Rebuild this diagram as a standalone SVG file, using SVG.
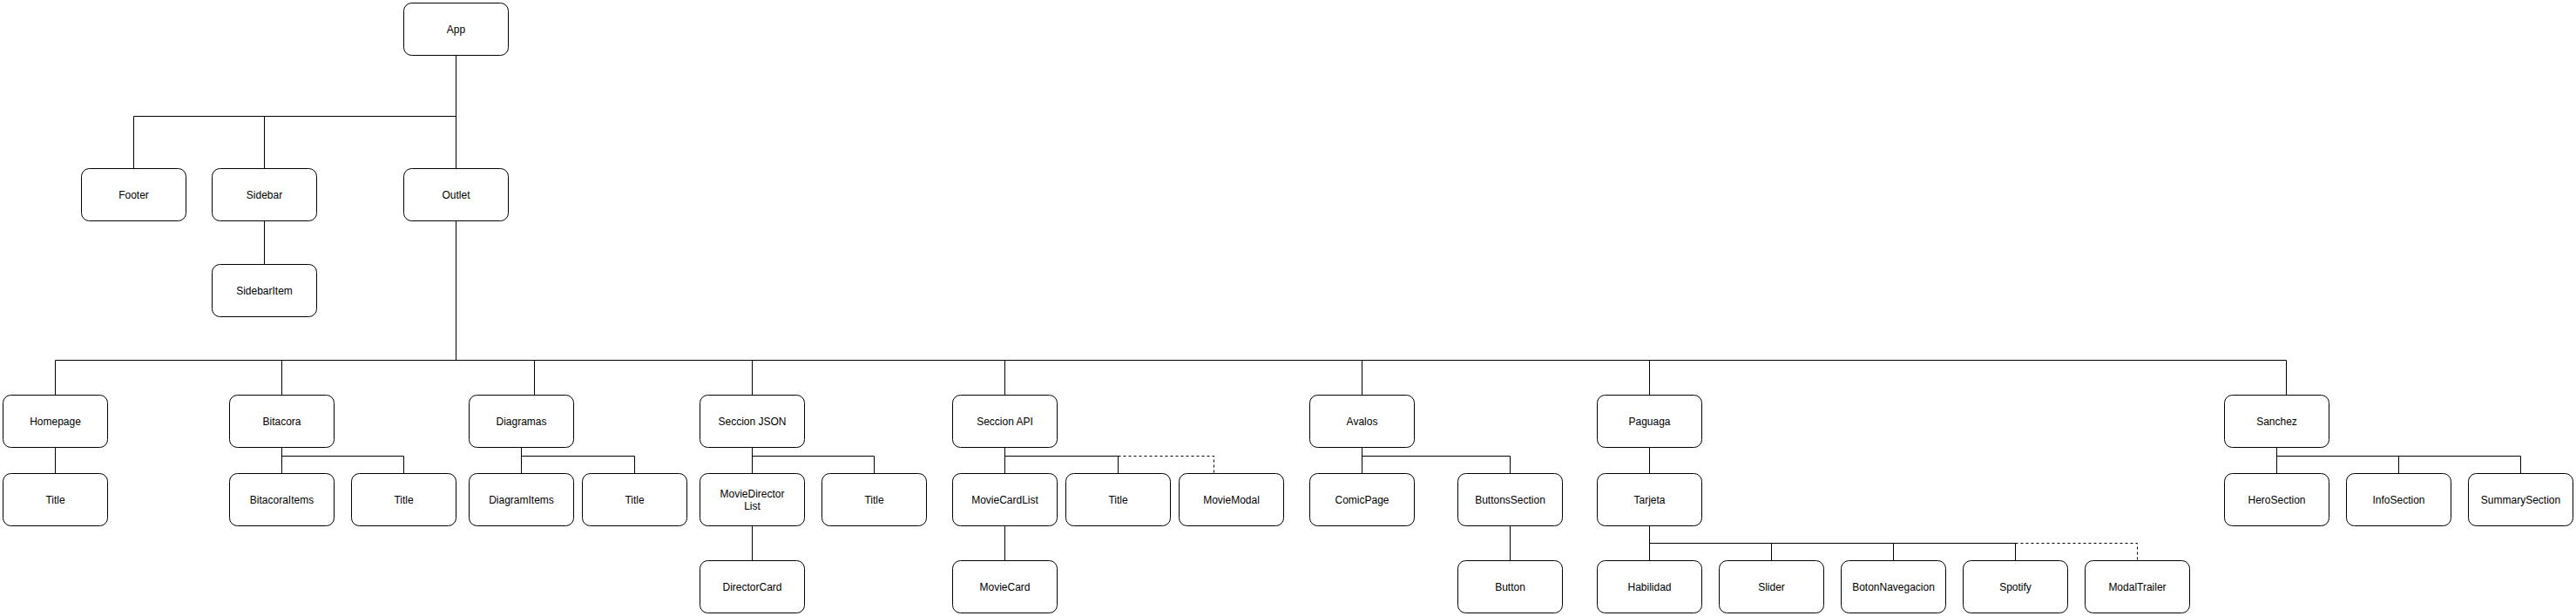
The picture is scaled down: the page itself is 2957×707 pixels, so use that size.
<svg xmlns="http://www.w3.org/2000/svg" width="2957" height="707" viewBox="0 0 2957 707">
<style>
.n rect{fill:#fff;stroke:#000;stroke-width:1}
.n text{font-family:"Liberation Sans",Arial,sans-serif;font-size:12px;fill:#000;text-anchor:middle}
.c path{fill:none;stroke:#000;stroke-width:1}
.c path.d{stroke-dasharray:3 3}
</style>
<rect width="2957" height="707" fill="#fff"/>
<g transform="translate(0.5,0.5)">
<g id="connectors" class="c">
<path d="M523 63V193M523 133H153V193M303 133V193"/>
<path d="M303 253V303"/>
<path d="M523 253V413M63 413H2624V453M63 413V453M323 413V453M613 413V453M863 413V453M1153 413V453M1563 413V453M1893 413V453"/>
<path d="M63 513V543"/>
<path d="M323 513V543M323 523H463V543"/>
<path d="M598 513V543M598 523H728V543"/>
<path d="M863 513V543M863 523H1003V543M863 603V643"/>
<path d="M1153 513V543M1153 523H1283V543M1153 603V643"/>
<path class="d" d="M1283 523H1393V543"/>
<path d="M1563 513V543M1563 523H1733V543M1733 603V643"/>
<path d="M1893 513V543M1893 603V643M1893 623H2313V643M2033 623V643M2173 623V643"/>
<path class="d" d="M2313 623H2453V643"/>
<path d="M2613 513V543M2613 523H2893V543M2753 523V543"/>
</g>
<g id="app" class="n"><rect x="463" y="3" width="120" height="60" rx="9"/><text x="523" y="37">App</text></g>
<g id="footer" class="n"><rect x="93" y="193" width="120" height="60" rx="9"/><text x="153" y="227">Footer</text></g>
<g id="sidebar" class="n"><rect x="243" y="193" width="120" height="60" rx="9"/><text x="303" y="227">Sidebar</text></g>
<g id="outlet" class="n"><rect x="463" y="193" width="120" height="60" rx="9"/><text x="523" y="227">Outlet</text></g>
<g id="sidebaritem" class="n"><rect x="243" y="303" width="120" height="60" rx="9"/><text x="303" y="337">SidebarItem</text></g>
<g id="homepage" class="n"><rect x="3" y="453" width="120" height="60" rx="9"/><text x="63" y="487">Homepage</text></g>
<g id="homepage-title" class="n"><rect x="3" y="543" width="120" height="60" rx="9"/><text x="63" y="577">Title</text></g>
<g id="bitacora" class="n"><rect x="263" y="453" width="120" height="60" rx="9"/><text x="323" y="487">Bitacora</text></g>
<g id="bitacoraitems" class="n"><rect x="263" y="543" width="120" height="60" rx="9"/><text x="323" y="577">BitacoraItems</text></g>
<g id="bitacora-title" class="n"><rect x="403" y="543" width="120" height="60" rx="9"/><text x="463" y="577">Title</text></g>
<g id="diagramas" class="n"><rect x="538" y="453" width="120" height="60" rx="9"/><text x="598" y="487">Diagramas</text></g>
<g id="diagramitems" class="n"><rect x="538" y="543" width="120" height="60" rx="9"/><text x="598" y="577">DiagramItems</text></g>
<g id="diagramas-title" class="n"><rect x="668" y="543" width="120" height="60" rx="9"/><text x="728" y="577">Title</text></g>
<g id="seccion-json" class="n"><rect x="803" y="453" width="120" height="60" rx="9"/><text x="863" y="487">Seccion JSON</text></g>
<g id="moviedirectorlist" class="n"><rect x="803" y="543" width="120" height="60" rx="9"/><text x="863" y="570">MovieDirector</text><text x="863" y="584">List</text></g>
<g id="json-title" class="n"><rect x="943" y="543" width="120" height="60" rx="9"/><text x="1003" y="577">Title</text></g>
<g id="directorcard" class="n"><rect x="803" y="643" width="120" height="60" rx="9"/><text x="863" y="677">DirectorCard</text></g>
<g id="seccion-api" class="n"><rect x="1093" y="453" width="120" height="60" rx="9"/><text x="1153" y="487">Seccion API</text></g>
<g id="moviecardlist" class="n"><rect x="1093" y="543" width="120" height="60" rx="9"/><text x="1153" y="577">MovieCardList</text></g>
<g id="api-title" class="n"><rect x="1223" y="543" width="120" height="60" rx="9"/><text x="1283" y="577">Title</text></g>
<g id="moviemodal" class="n"><rect x="1353" y="543" width="120" height="60" rx="9"/><text x="1413" y="577">MovieModal</text></g>
<g id="moviecard" class="n"><rect x="1093" y="643" width="120" height="60" rx="9"/><text x="1153" y="677">MovieCard</text></g>
<g id="avalos" class="n"><rect x="1503" y="453" width="120" height="60" rx="9"/><text x="1563" y="487">Avalos</text></g>
<g id="comicpage" class="n"><rect x="1503" y="543" width="120" height="60" rx="9"/><text x="1563" y="577">ComicPage</text></g>
<g id="buttonssection" class="n"><rect x="1673" y="543" width="120" height="60" rx="9"/><text x="1733" y="577">ButtonsSection</text></g>
<g id="button" class="n"><rect x="1673" y="643" width="120" height="60" rx="9"/><text x="1733" y="677">Button</text></g>
<g id="paguaga" class="n"><rect x="1833" y="453" width="120" height="60" rx="9"/><text x="1893" y="487">Paguaga</text></g>
<g id="tarjeta" class="n"><rect x="1833" y="543" width="120" height="60" rx="9"/><text x="1893" y="577">Tarjeta</text></g>
<g id="habilidad" class="n"><rect x="1833" y="643" width="120" height="60" rx="9"/><text x="1893" y="677">Habilidad</text></g>
<g id="slider" class="n"><rect x="1973" y="643" width="120" height="60" rx="9"/><text x="2033" y="677">Slider</text></g>
<g id="botonnavegacion" class="n"><rect x="2113" y="643" width="120" height="60" rx="9"/><text x="2173" y="677">BotonNavegacion</text></g>
<g id="spotify" class="n"><rect x="2253" y="643" width="120" height="60" rx="9"/><text x="2313" y="677">Spotify</text></g>
<g id="modaltrailer" class="n"><rect x="2393" y="643" width="120" height="60" rx="9"/><text x="2453" y="677">ModalTrailer</text></g>
<g id="sanchez" class="n"><rect x="2553" y="453" width="120" height="60" rx="9"/><text x="2613" y="487">Sanchez</text></g>
<g id="herosection" class="n"><rect x="2553" y="543" width="120" height="60" rx="9"/><text x="2613" y="577">HeroSection</text></g>
<g id="infosection" class="n"><rect x="2693" y="543" width="120" height="60" rx="9"/><text x="2753" y="577">InfoSection</text></g>
<g id="summarysection" class="n"><rect x="2833" y="543" width="120" height="60" rx="9"/><text x="2893" y="577">SummarySection</text></g>
</g>
</svg>
